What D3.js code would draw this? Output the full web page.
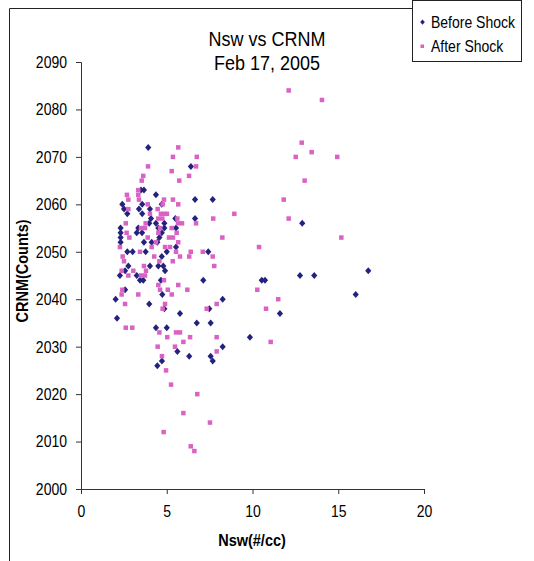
<!DOCTYPE html>
<html>
<head>
<meta charset="utf-8">
<script src="https://cdn.jsdelivr.net/npm/d3@7"></script>
<style>
  html, body { margin: 0; padding: 0; background: #fff; }
  svg { display: block; }
  text { font-family: Arial, "Liberation Sans", sans-serif; fill: #000; }
</style>
</head>
<body>
<svg id="chart" width="534" height="561"></svg>
<script>
// Solar wind density (Nsw, #/cc) against neutron monitor counts (CRNM)
const beforeNsw = [3.92,6.41,3.50,3.67,4.37,6.65,7.68,2.41,3.57,4.71,2.51,3.38,4.02,2.70,3.57,4.08,5.50,6.65,3.98,4.37,4.86,2.31,3.34,3.25,3.56,4.86,4.51,5.54,2.31,4.71,2.31,2.31,3.67,4.12,4.45,4.57,5.54,2.70,3.01,3.77,4.71,5.00,7.42,2.76,4.02,4.51,4.80,4.90,2.57,2.27,3.25,3.44,3.63,4.66,7.13,2.57,4.74,2.02,3.98,4.86,5.77,2.10,6.75,4.37,5.00,7.48,7.56,8.26,10.54,10.73,11.60,9.85,8.26,5.62,6.31,7.56,7.68,4.72,4.45,12.90,12.77,13.60,16.75,16.02];
const beforeCrnm = [2072,2068,2063,2063,2062,2061,2061,2060,2060,2060,2059,2059,2059,2058,2058,2057,2057,2057,2056,2056,2056,2055,2055,2054,2054,2055,2055,2055,2054,2054,2053,2052,2052,2052,2052,2053,2051,2050,2050,2050,2049,2050,2050,2047,2047,2047,2047,2046,2046,2045,2045,2044,2044,2044,2044,2042,2041,2040,2039,2038,2037,2036,2035,2034,2034,2038,2035,2040,2044,2044,2037,2032,2030,2029,2028,2028,2027,2027,2026,2056,2045,2045,2046,2041];

const afterNsw = [5.67,5.36,6.75,6.71,3.91,5.29,6.30,3.63,3.54,5.73,3.34,2.68,3.34,3.38,2.76,4.84,5.36,3.89,4.76,5.67,2.76,4.47,4.66,4.84,5.01,4.02,4.51,5.62,4.74,7.71,8.94,5.66,5.89,2.61,3.77,6.71,3.50,3.73,4.61,5.29,2.66,4.51,5.58,2.82,3.89,5.13,5.36,4.90,5.19,2.27,5.67,4.12,4.37,8.24,10.38,2.43,3.44,4.27,5.54,5.77,6.40,6.31,7.10,7.68,2.51,3.67,4.57,5.35,7.77,2.37,3.05,3.79,2.76,3.50,3.73,4.84,4.51,5.67,2.41,4.61,5.06,6.20,2.37,3.34,5.29,4.90,2.57,4.76,7.33,2.61,2.99,4.57,5.54,5.77,5.03,5.97,6.36,4.47,5.48,4.72,4.96,5.25,6.78,5.97,7.52,4.82,6.40,6.61,7.91,7.91,7.91,10.28,11.50,10.79,11.06,12.11,14.05,12.87,13.45,12.52,14.94,13.04,11.82,12.11,15.18];
const afterCrnm = [2072,2070,2070,2068,2068,2067,2066,2066,2065,2065,2063,2062,2062,2061,2061,2061,2061,2060,2060,2060,2059,2059,2058,2058,2058,2058,2057,2057,2057,2057,2058,2056,2056,2056,2056,2056,2055,2055,2055,2055,2054,2054,2054,2053,2053,2053,2053,2051,2051,2051,2052,2051,2052,2053,2051,2049,2050,2049,2050,2049,2050,2049,2050,2049,2048,2047,2048,2048,2047,2046,2046,2046,2045,2045,2045,2044,2043,2043,2042,2042,2042,2042,2041,2041,2041,2039,2039,2038,2038,2034,2034,2033,2033,2033,2032,2031,2032,2030,2030,2028,2025,2022,2020,2016,2014,2012,2009,2008,2039,2032,2029,2042,2040,2038,2031,2084,2082,2073,2071,2070,2070,2065,2061,2057,2053];

const xTicks = [0, 5, 10, 15, 20];
const yTicks = [2000, 2010, 2020, 2030, 2040, 2050, 2060, 2070, 2080, 2090];
const seriesNames = ["Before Shock", "After Shock"];
const titleLines = ["Nsw vs CRNM", "Feb 17, 2005"];
const xTitle = "Nsw(#/cc)";
const yTitle = "CRNM(Counts)";

const BLUE = "#23237f";
const PINK = "#d963c4";
const AXIS = "#333";

const svg = d3.select("#chart");

const x = d3.scaleLinear().domain([0, 20]).range([81, 424]);
const y = d3.scaleLinear().domain([2000, 2090]).range([489, 62]);

// chart-area frame (left and top edges)
svg.append("path")
  .attr("d", "M9.5,561 V8.5 H413")
  .attr("fill", "none").attr("stroke", "#222").attr("stroke-width", 1);

// titles
svg.append("g").selectAll("text").data(titleLines).join("text")
  .attr("transform", (d, i) => `translate(267,${46 + i * 23.5}) scale(1,1.1)`)
  .attr("text-anchor", "middle")
  .style("font-size", "18px")
  .text(d => d);

// y axis
const yAxis = svg.append("g")
  .attr("transform", `translate(${x(0)},0)`)
  .call(d3.axisLeft(y).tickValues(yTicks).tickSize(5).tickPadding(9).tickFormat(d3.format("d")));
yAxis.select(".domain").attr("stroke", AXIS);
yAxis.selectAll(".tick line").attr("stroke", AXIS);
yAxis.selectAll(".tick text")
  .style("font-size", "14px").style("font-family", "Arial, 'Liberation Sans', sans-serif")
  .attr("fill", "#000")
  .attr("transform", "scale(1,1.2)");

// x axis
const xAxis = svg.append("g")
  .attr("transform", `translate(0,${y(2000)})`)
  .call(d3.axisBottom(x).tickValues(xTicks).tickSize(5).tickFormat(d3.format("d")));
xAxis.select(".domain").attr("stroke", AXIS);
xAxis.selectAll(".tick line").attr("stroke", AXIS);
xAxis.selectAll(".tick text")
  .style("font-size", "14px").style("font-family", "Arial, 'Liberation Sans', sans-serif")
  .attr("fill", "#000")
  .attr("y", 0).attr("dy", null)
  .attr("transform", "translate(0,28) scale(1,1.2)");

// axis titles
svg.append("text")
  .attr("transform", "translate(27.5,271) rotate(-90) scale(1.0,1.1)")
  .attr("text-anchor", "middle")
  .style("font-size", "14.5px").style("font-weight", "bold")
  .text(yTitle);

svg.append("text")
  .attr("transform", "translate(252,546) scale(1,1.1)")
  .attr("text-anchor", "middle")
  .style("font-size", "14.5px").style("font-weight", "bold")
  .text(xTitle);

// markers
const diamond = "M0,-3.5L3.1,0L0,3.5L-3.1,0Z";
const before = beforeNsw.map((v, i) => ({ nsw: v, crnm: beforeCrnm[i] }));
const after = afterNsw.map((v, i) => ({ nsw: v, crnm: afterCrnm[i] }));

svg.append("g").selectAll("path").data(before).join("path")
  .attr("transform", d => `translate(${x(d.nsw)},${y(d.crnm)})`)
  .attr("d", diamond)
  .attr("fill", BLUE);

svg.append("g").selectAll("rect").data(after).join("rect")
  .attr("x", d => x(d.nsw) - 2.25)
  .attr("y", d => y(d.crnm) - 2.25)
  .attr("width", 4.5).attr("height", 4.5)
  .attr("fill", PINK);

// legend
const legend = svg.append("g");
legend.append("rect")
  .attr("x", 412.5).attr("y", 0.5).attr("width", 109).attr("height", 61)
  .attr("fill", "#fff").attr("stroke", "#222");
const items = legend.selectAll("g").data(seriesNames).join("g")
  .attr("transform", (d, i) => `translate(0,${22 + i * 24})`);
items.each(function (d, i) {
  const g = d3.select(this);
  if (i === 0) {
    g.append("path").attr("transform", "translate(422.5,0) scale(0.75)").attr("d", diamond).attr("fill", BLUE);
  } else {
    g.append("rect").attr("x", 420.5).attr("y", -1.5).attr("width", 3.5).attr("height", 3.5).attr("fill", PINK);
  }
  g.append("text")
    .attr("transform", "translate(431,6) scale(1,1.2)")
    .style("font-size", "14px")
    .text(d);
});
</script>
</body>
</html>
